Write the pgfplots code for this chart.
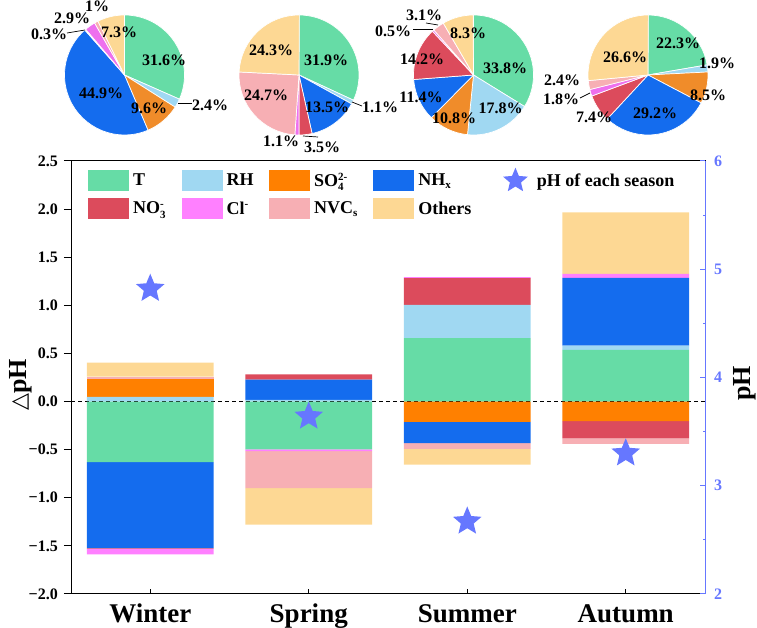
\documentclass[border=0pt]{standalone}
\usepackage{fontspec}
\setmainfont{Liberation Serif}
\newfontfamily\dejavu{DejaVu Sans}
\usepackage{pgfplots}
\pgfplotsset{compat=1.18}
\usepackage{pgfplotstable}

\definecolor{cT}{HTML}{66DCA6}
\definecolor{cRH}{HTML}{A0D8F2}
\definecolor{cSO}{HTML}{FF8000}
\definecolor{cSOp}{HTML}{F08C2A}
\definecolor{cNH}{HTML}{146CEE}
\definecolor{cNO}{HTML}{DC4B5C}
\definecolor{cCl}{HTML}{FF80FF}
\definecolor{cClp}{HTML}{EE70EE}
\definecolor{cNV}{HTML}{F7AFB4}
\definecolor{cOt}{HTML}{FDD894}
\definecolor{cStar}{HTML}{6677FF}

\pgfdeclareplotmark{fstar}{%
  \pgfpathmoveto{\pgfpointpolar{90}{\pgfplotmarksize}}%
  \pgfpathlineto{\pgfpointpolar{126}{0.45\pgfplotmarksize}}%
  \pgfpathlineto{\pgfpointpolar{162}{\pgfplotmarksize}}%
  \pgfpathlineto{\pgfpointpolar{198}{0.45\pgfplotmarksize}}%
  \pgfpathlineto{\pgfpointpolar{234}{\pgfplotmarksize}}%
  \pgfpathlineto{\pgfpointpolar{270}{0.45\pgfplotmarksize}}%
  \pgfpathlineto{\pgfpointpolar{306}{\pgfplotmarksize}}%
  \pgfpathlineto{\pgfpointpolar{342}{0.45\pgfplotmarksize}}%
  \pgfpathlineto{\pgfpointpolar{18}{\pgfplotmarksize}}%
  \pgfpathlineto{\pgfpointpolar{54}{0.45\pgfplotmarksize}}%
  \pgfpathclose
  \pgfusepathqfill}

\pgfplotsset{
  patch legend/.style={legend image code/.code={\fill[##1] (0pt,-10.5pt) rectangle (41pt,10.5pt);}},
  star legend/.style={legend image code/.code={\path[draw=none, fill=none] (0pt,-10.5pt) rectangle (46pt,10.5pt); \draw[##1, mark size=13pt] plot coordinates {(28.5pt,0pt)};}},
}

\newcommand\sbf{\fontsize{11}{11}\selectfont}
\newcommand\drawpie[2]{%
  \foreach \v/\col [remember=\e as \s (initially 90), evaluate=\v as \e using \s-3.6*\v] in {#2} {
    \fill[\col, draw=white, line width=0.7pt] (#1) -- ++(\s:60pt) arc[start angle=\s, end angle=\e, radius=60pt] -- cycle;
  }}

% positive parts of the contributions (Delta pH)
\pgfplotstableread{
x T RH SO4 NHx NO3 Cl NVCs Others
0 0 0.048 0.191 0 0 0 0.020 0.145
1 0 0.017 0 0.211 0.055 0 0 0
2 0.659 0.347 0 0 0.277 0.010 0 0
3 0.536 0.046 0 0.702 0 0.043 0 0.640
}\posdata
% negative parts
\pgfplotstableread{
x T RH SO4 NHx NO3 Cl NVCs Others
0 -0.629 0 0 -0.894 -0.006 -0.058 0 0
1 -0.498 0 0 0 0 -0.017 -0.385 -0.379
2 0 0 -0.211 -0.222 0 0 -0.060 -0.162
3 0 0 -0.204 0 -0.178 0 -0.058 0
}\negdata
\pgfplotstableread{
x pH
0 4.82
1 3.64
2 2.67
3 3.30
}\phdata

\begin{document}
\begin{tikzpicture}[pl/.style={font=\fontsize{16}{16}\selectfont\bfseries, inner sep=0pt}]
\useasboundingbox (0pt,0pt) rectangle (757pt,628pt);

% ---- pies (percentages, clockwise from 12 o'clock: T, RH, SO4, NHx, NO3, Cl, NVCs, Others)
\drawpie{124.5pt,553pt}{31.6/cT,2.4/cRH,9.6/cSOp,44.9/cNH,0.3/cNO,2.9/cClp,1/cNV,7.3/cOt}
\drawpie{299pt,553pt}{31.9/cT,1.1/cRH,0/cSOp,13.5/cNH,3.5/cNO,1.1/cClp,24.7/cNV,24.3/cOt}
\drawpie{473.5pt,553pt}{33.8/cT,17.8/cRH,10.8/cSOp,11.4/cNH,14.2/cNO,0.5/cClp,3.1/cNV,8.3/cOt}
\drawpie{648pt,553pt}{22.3/cT,1.9/cRH,8.5/cSOp,29.2/cNH,7.4/cNO,1.8/cClp,2.4/cNV,26.6/cOt}

\draw[black, line width=0.7pt] (178pt,525pt) -- (192pt,525pt);
\draw[black, line width=0.7pt] (67pt,595pt) -- (85pt,598pt);
\draw[black, line width=0.7pt] (352pt,526pt) -- (362pt,522pt);
\draw[black, line width=0.7pt] (303pt,492pt) -- (318pt,491pt);
\draw[black, line width=0.7pt] (413pt,599pt) -- (433pt,599pt);
\draw[black, line width=0.7pt] (426pt,605pt) -- (438pt,603pt);
\draw[black, line width=0.7pt] (580pt,530pt) -- (590pt,535pt);

\node[pl] at (164pt,568pt) {31.6\%};
\node[pl] at (210pt,523pt) {2.4\%};
\node[pl] at (149pt,520pt) {9.6\%};
\node[pl] at (101pt,535pt) {44.9\%};
\node[pl] at (49pt,594pt) {0.3\%};
\node[pl] at (72pt,610pt) {2.9\%};
\node[pl] at (97pt,622pt) {1\%};
\node[pl] at (119pt,596pt) {7.3\%};

\node[pl] at (326pt,568pt) {31.9\%};
\node[pl] at (380pt,521pt) {1.1\%};
\node[pl] at (327pt,521pt) {13.5\%};
\node[pl] at (266pt,533pt) {24.7\%};
\node[pl] at (271pt,578pt) {24.3\%};
\node[pl] at (281pt,487pt) {1.1\%};
\node[pl] at (322pt,481pt) {3.5\%};

\node[pl] at (505pt,560pt) {33.8\%};
\node[pl] at (500.5pt,520pt) {17.8\%};
\node[pl] at (454pt,510pt) {10.8\%};
\node[pl] at (421pt,531pt) {11.4\%};
\node[pl] at (422pt,569pt) {14.2\%};
\node[pl] at (393pt,597pt) {0.5\%};
\node[pl] at (424pt,613pt) {3.1\%};
\node[pl] at (468pt,595pt) {8.3\%};

\node[pl] at (678pt,585pt) {22.3\%};
\node[pl] at (717pt,565pt) {1.9\%};
\node[pl] at (708pt,533pt) {8.5\%};
\node[pl] at (655pt,515pt) {29.2\%};
\node[pl] at (594pt,511pt) {7.4\%};
\node[pl] at (561pt,529pt) {1.8\%};
\node[pl] at (562pt,548pt) {2.4\%};
\node[pl] at (625pt,571pt) {26.6\%};

% ---- positive stacks, frame and x axis
\begin{axis}[
  at={(71pt,34pt)}, anchor=south west, scale only axis, width=634pt, height=433pt,
  xmin=-0.5, xmax=3.5, ymin=-2, ymax=2.5,
  ybar stacked, bar width=0.8,
  xtick={0,1,2,3}, xticklabels={Winter,Spring,Summer,Autumn}, xtick pos=left,
  ytick=\empty,
  major tick length=5pt,
  tick style={black, line width=1pt},
  axis line style={line width=1pt},
  xticklabel style={font=\fontsize{27}{27}\selectfont\bfseries, inner sep=0pt, yshift=-10pt},
]
\addplot[fill=cT, draw=none] table[x=x,y=T]{\posdata};
\addplot[fill=cRH, draw=none] table[x=x,y=RH]{\posdata};
\addplot[fill=cSO, draw=none] table[x=x,y=SO4]{\posdata};
\addplot[fill=cNH, draw=none] table[x=x,y=NHx]{\posdata};
\addplot[fill=cNO, draw=none] table[x=x,y=NO3]{\posdata};
\addplot[fill=cCl, draw=none] table[x=x,y=Cl]{\posdata};
\addplot[fill=cNV, draw=none] table[x=x,y=NVCs]{\posdata};
\addplot[fill=cOt, draw=none] table[x=x,y=Others]{\posdata};
\end{axis}

% ---- negative stacks and left y axis
\begin{axis}[
  at={(71pt,34pt)}, anchor=south west, scale only axis, width=634pt, height=433pt,
  xmin=-0.5, xmax=3.5, ymin=-2, ymax=2.5,
  ybar stacked, bar width=0.8,
  hide x axis, axis y line*=left,
  ytick={-2,-1.5,-1,-0.5,0,0.5,1,1.5,2,2.5},
  yticklabels={−2.0,−1.5,−1.0,−0.5,0.0,0.5,1.0,1.5,2.0,2.5},
  tick align=outside, major tick length=7pt,
  tick style={black, line width=1pt},
  axis line style={line width=1pt},
  yticklabel style={font=\fontsize{16}{16}\selectfont\bfseries, inner sep=0pt, xshift=-6pt},
  every axis y label/.style={at={(axis description cs:-0.08,0.483)}, anchor=center, rotate=90},
  ylabel={{\dejavu\fontsize{22}{22}\selectfont △}{\fontsize{26}{26}\selectfont\bfseries pH}},
]
\addplot[fill=cT, draw=none] table[x=x,y=T]{\negdata};
\addplot[fill=cRH, draw=none] table[x=x,y=RH]{\negdata};
\addplot[fill=cSO, draw=none] table[x=x,y=SO4]{\negdata};
\addplot[fill=cNH, draw=none] table[x=x,y=NHx]{\negdata};
\addplot[fill=cNO, draw=none] table[x=x,y=NO3]{\negdata};
\addplot[fill=cCl, draw=none] table[x=x,y=Cl]{\negdata};
\addplot[fill=cNV, draw=none] table[x=x,y=NVCs]{\negdata};
\addplot[fill=cOt, draw=none] table[x=x,y=Others]{\negdata};
\draw[black, line width=1pt, dash pattern=on 4pt off 3pt] (axis cs:-0.5,0) -- (axis cs:3.5,0);
\end{axis}

% ---- pH axis, stars and legend
\begin{axis}[
  at={(71pt,34pt)}, anchor=south west, scale only axis, width=634pt, height=433pt,
  xmin=-0.5, xmax=3.5, ymin=2, ymax=6,
  hide x axis, axis y line*=right,
  ytick={2,3,4,5,6}, yticklabels={2,3,4,5,6},
  minor ytick={2.5,3.5,4.5,5.5},
  tick align=inside, major tick length=5pt, minor tick length=2.5pt,
  tick style={cStar, line width=1pt},
  y axis line style={cStar, line width=1pt},
  yticklabel style={font=\fontsize{16}{16}\selectfont\bfseries, text=cStar, inner sep=0pt, xshift=9pt},
  every axis y label/.style={at={(axis description cs:1.063,0.487)}, anchor=center, rotate=90},
  ylabel={\fontsize{26}{26}\selectfont\bfseries pH},
  legend columns=5,
  legend cell align=left,
  legend style={at={(axis description cs:0.0268,0.985)}, anchor=north west, draw=none, fill=none,
    inner sep=0pt, font=\fontsize{18}{18}\selectfont\bfseries, column sep=4pt, row sep=7pt,
    nodes={inner sep=0pt},
    /tikz/every even column/.append style={column sep=15.5pt}},
]
\addlegendimage{patch legend, fill=cT, draw=none}
\addlegendentry{T}
\addlegendimage{patch legend, fill=cRH, draw=none}
\addlegendentry{RH}
\addlegendimage{patch legend, fill=cSO, draw=none}
\addlegendentry{SO$^{\mbox{\sbf 2-}}_{\mbox{\sbf 4}}$}
\addlegendimage{patch legend, fill=cNH, draw=none}
\addlegendentry{NH$_{\mbox{\sbf x}}$}
\addplot[star legend, only marks, mark=fstar, mark size=15pt, color=cStar] table[x=x,y=pH]{\phdata};
\addlegendentry{pH of each season}
\addlegendimage{patch legend, fill=cNO, draw=none}
\addlegendentry{NO$^{\mbox{\sbf -}}_{\mbox{\sbf 3}}$}
\addlegendimage{patch legend, fill=cCl, draw=none}
\addlegendentry{Cl$^{\mbox{\sbf -}}$}
\addlegendimage{patch legend, fill=cNV, draw=none}
\addlegendentry{NVC$_{\mbox{\sbf s}}$}
\addlegendimage{patch legend, fill=cOt, draw=none}
\addlegendentry{Others}
\end{axis}
\end{tikzpicture}
\end{document}
